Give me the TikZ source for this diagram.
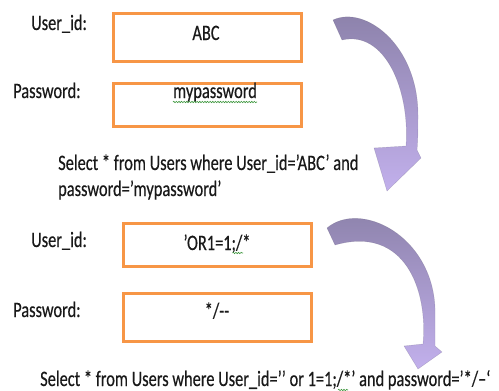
\documentclass[tikz,border=0pt]{standalone}
\usepackage{fontspec}
\setmainfont{Carlito}[FakeStretch=0.745, FakeBold=0.4]
\usetikzlibrary{decorations.pathmorphing}
\definecolor{boxorange}{RGB}{247,150,70}
\definecolor{arrowtop}{RGB}{138,128,168}
\definecolor{arrowbottom}{RGB}{194,176,236}
\definecolor{spellgreen}{RGB}{60,150,60}
\tikzset{
    field/.style={rectangle, draw=boxorange, line width=3pt, minimum width=188pt, inner sep=0pt},
    txt/.style={anchor=base, inner sep=0pt, font=\fontsize{22}{26}\selectfont, text=black!90},
    caption/.style={txt, anchor=base west},
    squiggle/.style={spellgreen, line width=0.6pt, decorate, decoration={snake, amplitude=0.7pt, segment length=2.6pt}},
    curvearrow/.style={top color=arrowtop, bottom color=arrowbottom, draw=arrowtop!70!black, draw opacity=0.3, line width=0.4pt},
}

\begin{document}
\begin{tikzpicture}[x=1pt, y=-1pt]
    \useasboundingbox (0,0) rectangle (499,391);

    % Normal login
    \node[field, minimum height=48pt] (uid1) at (207.5,37.5) {};
    \node[field, minimum height=43pt] (pw1) at (207.5,105) {};
    \node[caption] (uidlbl1) at (31,30) {User\_id:};
    \node[caption] (pwlbl1) at (13,98) {Password:};
    \node[txt] (uidval1) at (206,40) {ABC};
    \node[txt] (pwval1) at (215,98) {mypassword};
    \draw[squiggle] ([yshift=-4pt]pwval1.base west) -- ([yshift=-4pt]pwval1.base east);

    % Query built from it
    \node[caption] (query1a) at (58,170) {Select * from Users where User\_id=’ABC’ and};
    \node[caption] (query1b) at (58,196) {password=’mypassword’};
    \path[curvearrow] (333,20) .. controls (365,5) and (418,45) .. (418,115)
        .. controls (418,128) and (418,140) .. (417,150)
        -- (421,158) -- (387,191) -- (374,148) -- (406,146)
        .. controls (410,90) and (385,30) .. (342,40) -- cycle;

    % Injected login
    \node[field, minimum height=43pt] (uid2) at (217.5,245) {};
    \node[field, minimum height=48pt] (pw2) at (217.5,317.5) {};
    \node[caption] (uidlbl2) at (31,247) {User\_id:};
    \node[caption] (pwlbl2) at (13,317) {Password:};
    \node[txt] (uidval2) at (217,250) {’OR1=1;/*};
    \node[txt] (pwval2) at (217,318) {*/-{}-};
    \draw[squiggle] (232.5,253) -- (243,253);

    % Query built from it
    \node[caption] (query2) at (40,386) {Select * from Users where User\_id=’’ or 1=1;/*’ and password=’*/–‘};
    \draw[squiggle] (338,390) -- (348,390);
    \path[curvearrow] (327,228) .. controls (360,200) and (432,235) .. (435,308)
        -- (435,346)
        -- (442,352) -- (418,369) -- (404,346) -- (423,344)
        .. controls (428,290) and (405,225) .. (335,245) -- cycle;
\end{tikzpicture}
\end{document}
